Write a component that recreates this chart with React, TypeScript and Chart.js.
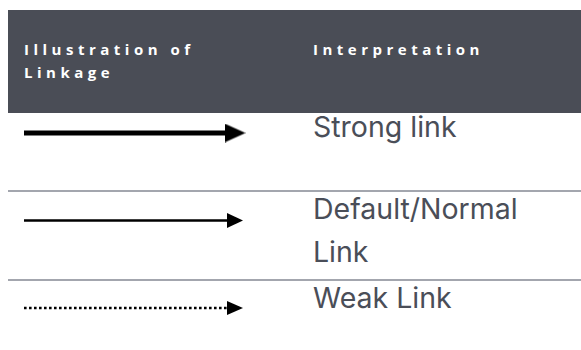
import React, { useEffect, useRef } from 'react';
import { Chart, registerables } from 'chart.js';

Chart.register(...registerables);

// ---- data ----
const LINK_TYPES = ['Strong', 'Default', 'Weak'];
const ARROW_FROM = [0, 0, 0];
const ARROW_TO = [1, 1, 1];
const HEADER_LEFT = ['Illustration of', 'Linkage'];
const HEADER_RIGHT = 'Interpretation';
const INTERPRETATIONS = [['Strong link'], ['Default/Normal', 'Link'], ['Weak Link']];

// ---- styles ----
const ARROW_STYLES = [
  { width: 5, dash: [] as number[], head: [21, 19] },
  { width: 2.5, dash: [] as number[], head: [16, 15] },
  { width: 2.7, dash: [2.6, 2.4], head: [16, 14] },
];
const LABEL_TOPS = [105.6, 188.3, 276.6];
const SEPARATOR_TOPS = [190, 279];

function makeHead(w: number, h: number): HTMLCanvasElement {
  const c = document.createElement('canvas');
  c.width = w;
  c.height = h;
  const ctx = c.getContext('2d')!;
  ctx.fillStyle = '#000';
  ctx.beginPath();
  ctx.moveTo(0, 0);
  ctx.lineTo(w, h / 2);
  ctx.lineTo(0, h);
  ctx.closePath();
  ctx.fill();
  return c;
}

export default function App() {
  const ref = useRef<HTMLCanvasElement | null>(null);

  useEffect(() => {
    if (!ref.current) return;
    const datasets = LINK_TYPES.map((t, i) => {
      const s = ARROW_STYLES[i];
      return {
        label: t,
        data: [
          { x: ARROW_FROM[i], y: t },
          { x: ARROW_TO[i], y: t },
        ],
        borderColor: '#000',
        backgroundColor: '#000',
        borderWidth: s.width,
        borderDash: s.dash,
        borderCapStyle: 'butt' as const,
        pointRadius: [0, 10],
        pointHoverRadius: [0, 10],
        pointBorderWidth: 0,
        pointStyle: makeHead(s.head[0], s.head[1]),
        clip: false as const,
        tension: 0,
      };
    });
    const chart = new Chart(ref.current, {
      type: 'line',
      data: { datasets },
      options: {
        animation: false,
        responsive: false,
        maintainAspectRatio: false,
        events: [],
        layout: { padding: { left: 24, right: 346, top: 133, bottom: 42 } },
        plugins: { legend: { display: false }, tooltip: { enabled: false } },
        scales: {
          x: { type: 'linear', min: 0, max: 1, display: false },
          y: { type: 'category', labels: LINK_TYPES, offset: false, display: false },
        },
      },
    });
    return () => chart.destroy();
  }, []);

  const headerText: React.CSSProperties = {
    position: 'absolute',
    top: 37.6,
    fontFamily: "'Open Sans', sans-serif",
    fontWeight: 700,
    fontSize: 15,
    lineHeight: '23.5px',
    letterSpacing: 4.5,
    color: '#ffffff',
    whiteSpace: 'nowrap',
  };
  const labelText: React.CSSProperties = {
    position: 'absolute',
    left: 313,
    fontFamily: "Inter, 'Noto Sans', sans-serif",
    fontWeight: 400,
    fontSize: 28.5,
    lineHeight: '42.7px',
    color: '#4a4e58',
    whiteSpace: 'nowrap',
  };

  return (
    <div style={{ position: 'fixed', left: 0, top: 0, width: 581, height: 350, overflow: 'hidden', background: '#fff' }}>
      <div style={{ position: 'absolute', left: 8, top: 10, width: 573, height: 103, background: '#4a4d56' }} />
      <div style={{ ...headerText, left: 24 }}>
        {HEADER_LEFT.map((l, i) => (
          <div key={i}>{l}</div>
        ))}
      </div>
      <div style={{ ...headerText, left: 313 }}>{HEADER_RIGHT}</div>
      {SEPARATOR_TOPS.map((t, i) => (
        <div key={i} style={{ position: 'absolute', left: 8, top: t, width: 573, height: 2, background: '#a3a6ae' }} />
      ))}
      {INTERPRETATIONS.map((lines, i) => (
        <div key={i} style={{ ...labelText, top: LABEL_TOPS[i] }}>
          {lines.map((l, j) => (
            <div key={j}>{l}</div>
          ))}
        </div>
      ))}
      <canvas ref={ref} width={581} height={350} style={{ position: 'absolute', left: 0, top: 0, pointerEvents: 'none' }} />
    </div>
  );
}
